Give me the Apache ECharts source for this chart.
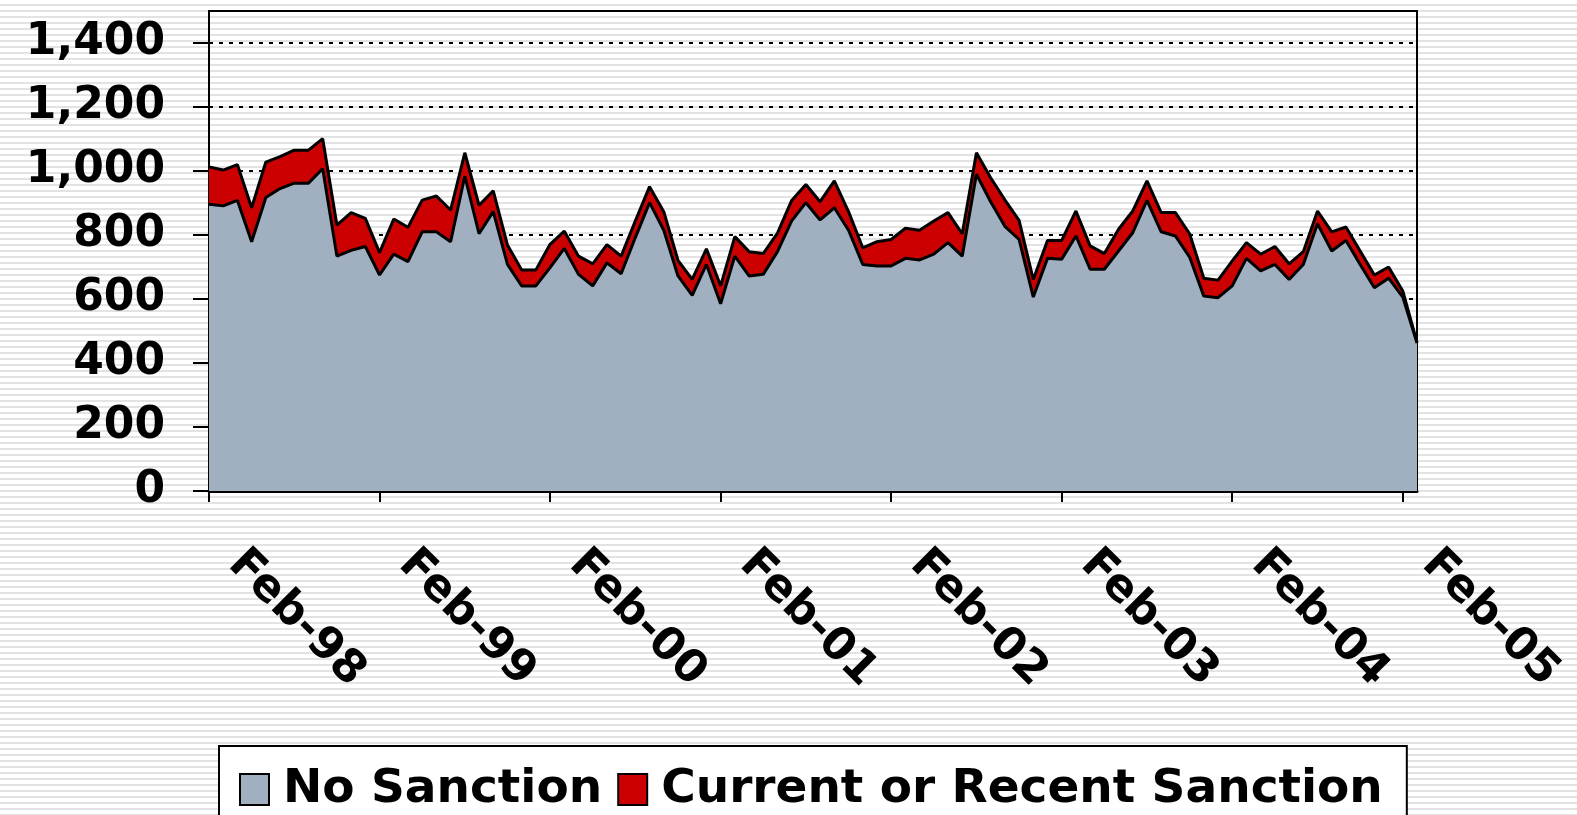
<!DOCTYPE html>
<html>
<head>
<meta charset="utf-8">
<script src="https://cdn.jsdelivr.net/npm/echarts@6/dist/echarts.min.js"></script>
<style>
  html, body { margin: 0; padding: 0; }
  body {
    width: 1577px;
    height: 815px;
    overflow: hidden;
    background: repeating-linear-gradient(to bottom, #ffffff 0px, #ffffff 4px, #e3e3e3 4px, #e3e3e3 6px);
  }
  #chart { width: 1577px; height: 815px; }
</style>
</head>
<body>
<div id="chart"></div>
<script>
// monthly categories, Feb-98 .. Mar-05
const monthNames = ['Jan', 'Feb', 'Mar', 'Apr', 'May', 'Jun', 'Jul', 'Aug', 'Sep', 'Oct', 'Nov', 'Dec']
const months = []
for (let i = 0; i < 86; i++) {
  const m = (1 + i) % 12
  const y = 98 + Math.floor((1 + i) / 12)
  months.push(monthNames[m] + '-' + String(y % 100).padStart(2, '0'))
}

// bottom layer
const noSanction = [
  896, 891, 908, 779, 917, 945, 962, 962, 1007, 734,
  752, 764, 675, 740, 717, 810, 810, 779, 984, 804,
  873, 708, 641, 641, 698, 758, 677, 641, 713, 679,
  792, 901, 815, 672, 611, 708, 585, 734, 672, 677,
  748, 844, 901, 847, 885, 815, 708, 703, 703, 727,
  722, 740, 776, 734, 990, 904, 827, 786, 606, 727,
  724, 797, 693, 693, 750, 807, 908, 810, 797, 731,
  609, 604, 641, 727, 688, 708, 661, 708, 835, 750,
  783, 708, 635, 665, 606, 462
]
// stacked on top
const sanction = [
  117, 112, 112, 106, 111, 100, 103, 103, 94, 97,
  118, 88, 70, 110, 107, 99, 112, 99, 73, 89,
  65, 61, 50, 50, 73, 54, 57, 69, 57, 55,
  52, 50, 58, 49, 50, 49, 56, 61, 76, 65,
  58, 64, 57, 57, 84, 58, 52, 76, 83, 94,
  93, 104, 94, 70, 67, 75, 83, 60, 55, 56,
  59, 78, 73, 49, 68, 68, 61, 60, 73, 73,
  56, 55, 78, 49, 52, 56, 49, 40, 40, 60,
  42, 42, 40, 35, 19, 2
]
const yTicks = [0, 200, 400, 600, 800, 1000, 1200, 1400]

const font = 'DejaVu Sans'
const chart = echarts.init(document.getElementById('chart'))
chart.setOption({
  backgroundColor: 'transparent',
  animation: false,
  grid: {
    left: 209,
    top: 11,
    width: 1208,
    height: 480,
    show: true,
    backgroundColor: 'transparent',
    borderColor: '#000',
    borderWidth: 2
  },
  legend: {
    left: 219,
    top: 746,
    orient: 'horizontal',
    padding: [20, 24, 30, 20],
    itemGap: 15,
    itemWidth: 29,
    itemHeight: 31,
    borderColor: '#000',
    borderWidth: 2,
    backgroundColor: '#fff',
    icon: 'rect',
    textStyle: { fontFamily: font, fontWeight: 'bold', fontSize: 47, color: '#000', padding: [2, 0, 0, 9] },
    data: [
      { name: 'No Sanction', itemStyle: { color: '#a1b0c0', borderColor: '#000', borderWidth: 2 } },
      { name: 'Current or Recent Sanction', itemStyle: { color: '#cc0000', borderColor: '#000', borderWidth: 2 } }
    ]
  },
  xAxis: {
    type: 'category',
    data: months,
    boundaryGap: false,
    axisLine: { lineStyle: { color: '#000', width: 3 } },
    axisTick: { interval: 11, length: 11, lineStyle: { color: '#000', width: 2 } },
    axisLabel: {
      interval: 11,
      rotate: -45,
      margin: 40,
      padding: [0, 0, 0, 37],
      fontFamily: font,
      fontWeight: 'bold',
      fontSize: 45,
      color: '#000'
    },
    splitLine: { show: false }
  },
  yAxis: {
    type: 'value',
    min: 0,
    max: 1500,
    interval: 200,
    axisLine: { show: true, lineStyle: { color: '#000', width: 2 } },
    axisTick: { show: true, length: 16, customValues: yTicks, lineStyle: { color: '#000', width: 2 } },
    axisLabel: {
      customValues: yTicks,
      margin: 44,
      padding: [5, 0, 0, 0],
      fontFamily: font,
      fontWeight: 'bold',
      fontSize: 44,
      color: '#000',
      formatter: v => v.toLocaleString('en-US')
    },
    splitLine: { show: true, lineStyle: { color: '#000', width: 2, type: [4, 6] } }
  },
  series: [
    {
      name: 'No Sanction',
      type: 'line',
      stack: 'total',
      z: 3,
      symbol: 'none',
      data: noSanction,
      itemStyle: { color: '#a1b0c0' },
      lineStyle: { color: '#000', width: 3 },
      areaStyle: { color: '#a1b0c0', opacity: 1 }
    },
    {
      name: 'Current or Recent Sanction',
      type: 'line',
      stack: 'total',
      z: 2,
      symbol: 'none',
      data: sanction,
      itemStyle: { color: '#cc0000' },
      lineStyle: { color: '#000', width: 3 },
      areaStyle: { color: '#cc0000', opacity: 1 }
    }
  ]
})
</script>
</body>
</html>
